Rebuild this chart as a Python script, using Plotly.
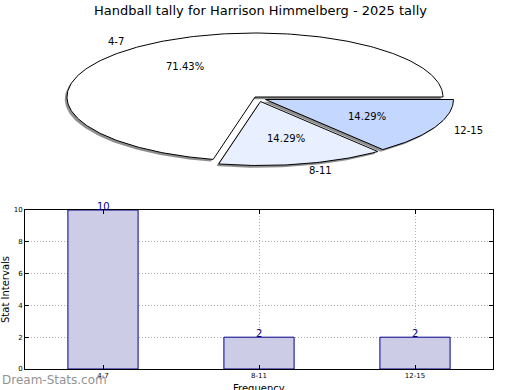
import math
import plotly.graph_objects as go

# ---- data ----
categories = ["4-7", "8-11", "12-15"]
counts = [10, 2, 2]
y_ticks = [0, 2, 4, 6, 8, 10]
title_text = "Handball tally for Harrison Himmelberg - 2025 tally"
y_title = "Stat Intervals"
x_title = "Frequency"
watermark = "Dream-Stats.com"

# ---- layout / style constants (pixels) ----
W, H = 520, 390
FONT = "DejaVu Sans"
CX, CY, RA, RB = 255, 97, 188, 64          # ellipse pie geometry
SLICE_COLORS = ["#FFFFFF", "#E8EFFE", "#C4D7FF"]
EXPLODE = [(0, 0), (5.5, 4.5), (10.5, 2.5)]
SHADOW = (-2.2, 2.2)
BAR_LEFT, BAR_RIGHT, BAR_TOP, BAR_BOTTOM = 25, 493, 210, 369


def py(pix):
    return 1 - pix / H


total = sum(counts)
spans = []
start = 0.0
for v in counts:
    sweep = 360.0 * v / total
    spans.append((start, start + sweep))
    start += sweep


def wedge(t0, t1, dx, dy):
    n = max(int((t1 - t0) / 1.0), 6)
    xs, ys = [CX + dx], [CY + dy]
    for i in range(n + 1):
        t = math.radians(t0 + (t1 - t0) * i / n)
        xs.append(CX + dx + RA * math.cos(t))
        ys.append(CY + dy - RB * math.sin(t))
    xs.append(CX + dx)
    ys.append(CY + dy)
    return xs, ys


fig = go.Figure()

# shadows
for i, (t0, t1) in enumerate(spans):
    ex, ey = EXPLODE[i]
    xs, ys = wedge(t0, t1, ex + SHADOW[0], ey + SHADOW[1])
    fig.add_trace(go.Scatter(x=xs, y=ys, mode="lines", fill="toself",
                             fillcolor="#8f8f8f", line=dict(width=0, color="#8f8f8f"),
                             xaxis="x2", yaxis="y2", hoverinfo="skip", showlegend=False))
# slices
for i, (t0, t1) in enumerate(spans):
    ex, ey = EXPLODE[i]
    xs, ys = wedge(t0, t1, ex, ey)
    fig.add_trace(go.Scatter(x=xs, y=ys, mode="lines", fill="toself",
                             fillcolor=SLICE_COLORS[i], line=dict(width=1, color="black"),
                             xaxis="x2", yaxis="y2", name=categories[i],
                             hoverinfo="name", showlegend=False))

annotations = []
for i, (t0, t1) in enumerate(spans):
    ex, ey = EXPLODE[i]
    mid = math.radians((t0 + t1) / 2)
    c, s = math.cos(mid), math.sin(mid)
    annotations.append(dict(
        x=CX + ex + 1.1 * RA * c, y=CY + ey - 1.1 * RB * s, xref="x2", yref="y2",
        text=categories[i], showarrow=False, xanchor="left" if c > 0 else "right",
        yanchor="middle", font=dict(family=FONT, size=10, color="black")))
    annotations.append(dict(
        x=CX + ex + 0.6 * RA * c, y=CY + ey - 0.6 * RB * s, xref="x2", yref="y2",
        text=f"{100.0 * counts[i] / total:.2f}%", showarrow=False,
        xanchor="center", yanchor="middle", font=dict(family=FONT, size=10, color="black")))

# bars
fig.add_trace(go.Bar(
    x=categories, y=counts, width=0.45,
    marker=dict(color="#CCCCE6", line=dict(color="#00008B", width=1)),
    xaxis="x", yaxis="y", showlegend=False, hoverinfo="x+y"))

# value labels on top of bars
for cat, v in zip(categories, counts):
    annotations.append(dict(x=cat, y=v, xref="x", yref="y", text=str(v), showarrow=False,
                            xanchor="center", yanchor="middle", yshift=4,
                            font=dict(family=FONT, size=10, color="#00008B")))

annotations += [
    dict(x=0.5, y=py(10), xref="paper", yref="paper", text=title_text, showarrow=False,
         xanchor="center", yanchor="middle", font=dict(family=FONT, size=13, color="black")),
    dict(x=0, y=py(380), xref="paper", yref="paper", text=watermark, showarrow=False,
         xanchor="left", yanchor="middle", font=dict(family=FONT, size=12, color="#939393")),
    dict(x=259 / W, y=py(381), xref="paper", yref="paper", text=x_title, showarrow=False,
         xanchor="center", yanchor="top", font=dict(family=FONT, size=10, color="black")),
]

axis_common = dict(showline=True, linecolor="black", linewidth=1, mirror="ticks",
                   ticks="inside", ticklen=4, tickcolor="black",
                   showgrid=True, gridcolor="#b0b0b0", griddash="1px,2px", gridwidth=1,
                   zeroline=False, layer="above traces", automargin=False,
                   tickfont=dict(family=FONT, size=7, color="black"))

fig.update_layout(
    width=W, height=H, margin=dict(l=0, r=0, t=0, b=0, autoexpand=False),
    paper_bgcolor="white", plot_bgcolor="rgba(0,0,0,0)",
    font=dict(family=FONT),
    showlegend=False,
    xaxis=dict(domain=[BAR_LEFT / W, BAR_RIGHT / W], anchor="y", type="category",
               range=[-0.5, 2.5], fixedrange=True, **axis_common),
    yaxis=dict(domain=[py(BAR_BOTTOM), py(BAR_TOP)], anchor="x", range=[0, 10],
               tickvals=y_ticks, fixedrange=True,
               title=dict(text=y_title, standoff=3,
                          font=dict(family=FONT, size=10, color="black")),
               **axis_common),
    xaxis2=dict(domain=[0, 1], anchor="y2", range=[0, W], visible=False, fixedrange=True),
    yaxis2=dict(domain=[0, 1], anchor="x2", range=[H, 0], visible=False, fixedrange=True),
    annotations=annotations,
)

fig.write_html("out.html", config={"displayModeBar": False},
               post_script="document.body.style.margin='0';")
